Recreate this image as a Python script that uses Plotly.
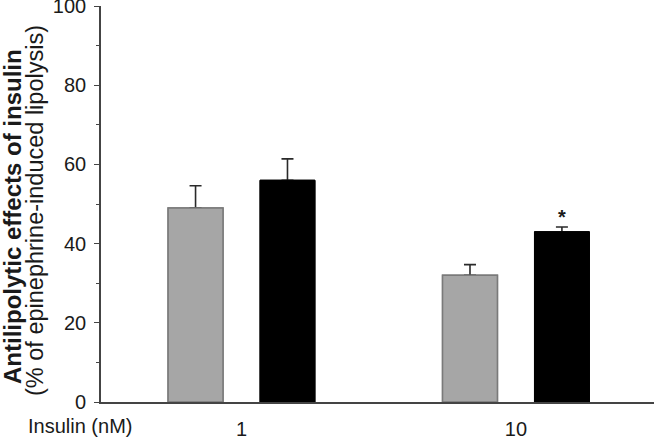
import plotly.graph_objects as go

categories = ["1", "10"]
gray_values = [49, 32]
gray_err = [5.6, 2.7]
black_values = [56, 43]
black_err = [5.4, 1.2]
y_ticks = [0, 20, 40, 60, 80, 100]

FONT = "Liberation Sans, Arial, sans-serif"
TXT = "#1a1a1a"
W, H = 654, 438
L, R, T, B = 101, 0, 6, 36
PW, PH = W - L - R, H - T - B


def px_x(px):
    return (px - L) / PW


def px_y(py):
    return (H - B - py) / PH


def err(vals, color):
    return dict(type="data", array=vals, arrayminus=[0] * len(vals), symmetric=False,
                color=color, thickness=1.6, width=6)


fig = go.Figure()
# bars with error bars
fig.add_trace(go.Bar(
    x=categories, y=gray_values, offsetgroup="g",
    marker=dict(color="#a6a6a6", line=dict(color="#7a7a7a", width=1.5)),
    error_y=err(gray_err, "#2a2a2a"),
))
fig.add_trace(go.Bar(
    x=categories, y=black_values, offsetgroup="b",
    marker=dict(color="#000000", line=dict(color="#000000", width=1)),
    error_y=err(black_err, "#2a2a2a"),
))
# same bars redrawn on top so only the upper whisker of each error bar shows
fig.add_trace(go.Bar(
    x=categories, y=gray_values, offsetgroup="g",
    marker=dict(color="#a6a6a6", line=dict(color="#7a7a7a", width=1.5)),
))
fig.add_trace(go.Bar(
    x=categories, y=black_values, offsetgroup="b",
    marker=dict(color="#000000", line=dict(color="#000000", width=1)),
))

# significance asterisk above the second black bar
fig.add_annotation(x=1 + 0.1676, y=black_values[1] + black_err[1] + 2.6, xref="x", yref="y",
                   text="<b>*</b>", showarrow=False, font=dict(family=FONT, size=20, color=TXT))

fig.add_annotation(x=px_x(12), y=px_y(217), xref="paper", yref="paper", textangle=-90,
                   text="<b>Antilipolytic effects of insulin</b>",
                   showarrow=False, font=dict(family=FONT, size=24, color=TXT),
                   xanchor="center", yanchor="middle")
fig.add_annotation(x=px_x(35), y=px_y(211), xref="paper", yref="paper", textangle=-90,
                   text="(% of epinephrine-induced lipolysis)",
                   showarrow=False, font=dict(family=FONT, size=23.5, color=TXT),
                   xanchor="center", yanchor="middle")
fig.add_annotation(x=px_x(79.5), y=px_y(426), xref="paper", yref="paper",
                   text="Insulin (nM)", showarrow=False,
                   font=dict(family=FONT, size=20, color=TXT), xanchor="center", yanchor="middle")

fig.update_layout(
    width=W, height=H,
    margin=dict(l=L, r=R, t=T, b=B, autoexpand=False),
    paper_bgcolor="white", plot_bgcolor="white",
    barmode="group", bargap=0.33, bargroupgap=0.403,
    showlegend=False,
    font=dict(family=FONT, size=20, color=TXT),
)
fig.update_xaxes(
    type="category", range=[-0.512, 1.503], automargin=False,
    showline=True, linecolor="#444444", linewidth=1.6,
    ticks="", showgrid=False, zeroline=False,
    tickfont=dict(family=FONT, size=20, color=TXT), ticklabelstandoff=8,
)
fig.update_yaxes(
    range=[0, 100], tickvals=y_ticks, automargin=False,
    showline=True, linecolor="#444444", linewidth=1.6,
    ticks="outside", ticklen=5, tickwidth=1.2, tickcolor="#444444",
    minor=dict(dtick=10, ticks="outside", ticklen=3, tickwidth=1.2, tickcolor="#444444"),
    showgrid=False, zeroline=False, ticklabeloverflow="allow",
    tickfont=dict(family=FONT, size=20, color=TXT), ticklabelstandoff=4,
)

fig.write_html("out.html", config={"displayModeBar": False},
               post_script="document.body.style.margin='0px';")
